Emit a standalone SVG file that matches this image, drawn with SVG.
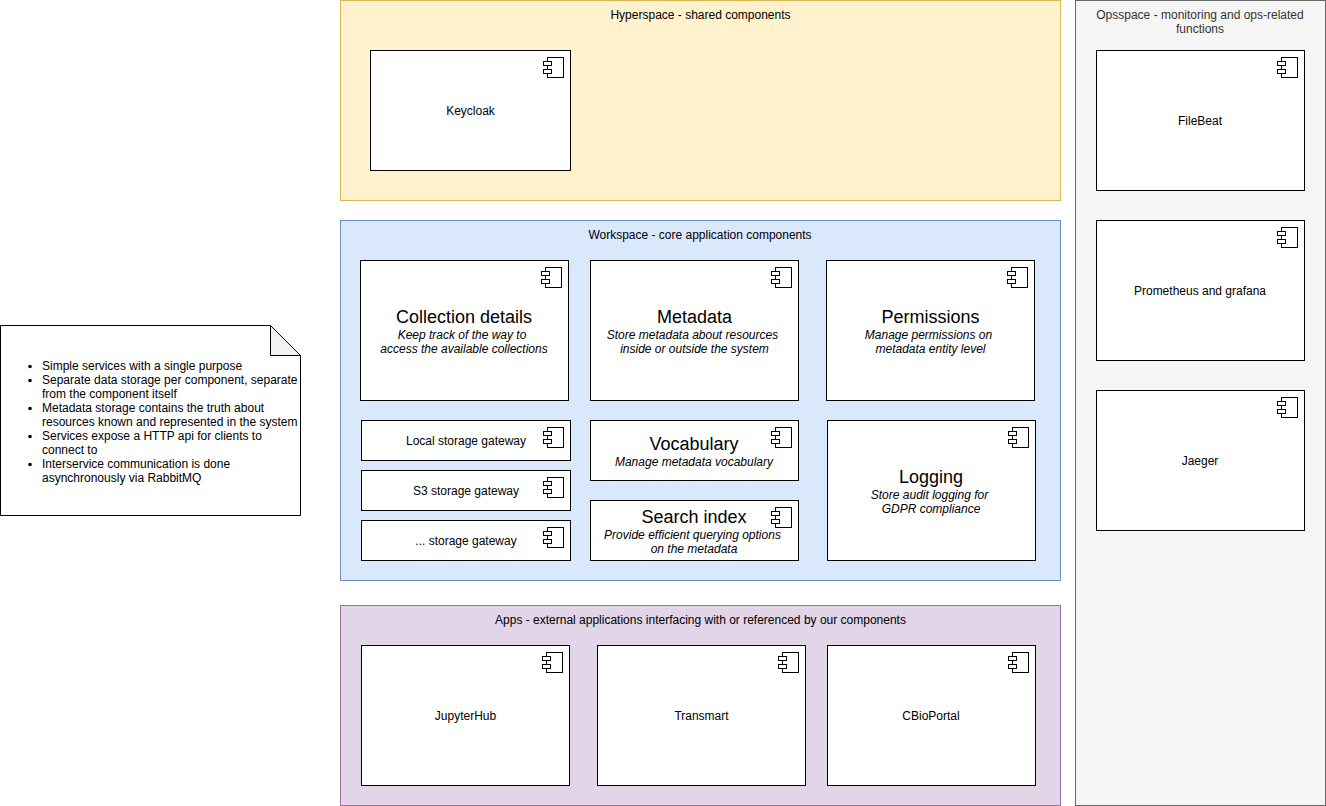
<svg xmlns="http://www.w3.org/2000/svg" width="1326" height="806" viewBox="0 0 1326 806">
<style>
text{font-family:"Liberation Sans",Arial,sans-serif;font-size:12px;fill:#000;text-anchor:middle}
.box{fill:#fff;stroke:#000;stroke-width:1}
.big{font-size:18px}
.sub{font-style:italic}
.note{text-anchor:start}
.ops{fill:#333}
.ic{fill:#fff;stroke:#000;stroke-width:1}
</style>
<defs>
<g id="icon"><rect class="ic" x="4" y="0" width="16" height="20"/><rect class="ic" x="0" y="4" width="8" height="4"/><rect class="ic" x="0" y="12" width="8" height="4"/></g>
</defs>
<g id="connectors"/>
<g id="hyperspace"><rect x="340.5" y="0.5" width="720" height="200" fill="#fff2cc" stroke="#d6b656"/><text x="700.5" y="19">Hyperspace - shared components</text></g>
<g id="workspace"><rect x="340.5" y="220.5" width="720" height="360" fill="#dae8fc" stroke="#6c8ebf"/><text x="700" y="239">Workspace - core application components</text></g>
<g id="apps"><rect x="340.5" y="605.5" width="720" height="200" fill="#e1d5e7" stroke="#9673a6"/><text x="700.5" y="624">Apps - external applications interfacing with or referenced by our components</text></g>
<g id="opsspace"><rect x="1075.5" y="0.5" width="250" height="805" fill="#f5f5f5" stroke="#666"/><text class="ops" x="1200" y="19">Opsspace - monitoring and ops-related</text><text class="ops" x="1200" y="33">functions</text></g>
<g id="note"><path d="M0.5 325.500H270.500L300.500 355.500V515.500H0.500Z" fill="#fff" stroke="#000"/><path d="M270.500 325.500V355.500H300.500Z" fill="#f2f2f2" stroke="#000"/>
<circle cx="30" cy="366.500" r="1.800"/><text class="note" x="42" y="370">Simple services with a single purpose</text>
<circle cx="30" cy="380.500" r="1.800"/><text class="note" x="42" y="384">Separate data storage per component, separate</text><text class="note" x="42" y="398">from the component itself</text>
<circle cx="30" cy="408.500" r="1.800"/><text class="note" x="42" y="412">Metadata storage contains the truth about</text><text class="note" x="42" y="426">resources known and represented in the system</text>
<circle cx="30" cy="436.500" r="1.800"/><text class="note" x="42" y="440">Services expose a HTTP api for clients to</text><text class="note" x="42" y="454">connect to</text>
<circle cx="30" cy="464.500" r="1.800"/><text class="note" x="42" y="468">Interservice communication is done</text><text class="note" x="42" y="482">asynchronously via RabbitMQ</text></g>
<g id="keycloak"><rect class="box" x="370.500" y="50.500" width="200" height="120"/><use href="#icon" x="543.500" y="57.500"/><text x="470.500" y="115">Keycloak</text></g>
<g id="collection-details"><rect class="box" x="360.500" y="260.500" width="208" height="140"/><use href="#icon" x="541.500" y="267.500"/><text class="big" x="464" y="323">Collection details</text><text class="sub" x="462" y="339">Keep track of the way to</text><text class="sub" x="464" y="353">access the available collections</text></g>
<g id="metadata"><rect class="box" x="590.500" y="260.500" width="208" height="140"/><use href="#icon" x="771.500" y="267.500"/><text class="big" x="694.500" y="323">Metadata</text><text class="sub" x="692.500" y="339">Store metadata about resources</text><text class="sub" x="694.500" y="353">inside or outside the system</text></g>
<g id="permissions"><rect class="box" x="826.500" y="260.500" width="208" height="140"/><use href="#icon" x="1007.500" y="267.500"/><text class="big" x="930.500" y="323">Permissions</text><text class="sub" x="928.500" y="339">Manage permissions on</text><text class="sub" x="930.500" y="353">metadata entity level</text></g>
<g id="local-storage"><rect class="box" x="361.500" y="420.500" width="209" height="40"/><use href="#icon" x="543.500" y="427.500"/><text x="466" y="445">Local storage gateway</text></g>
<g id="s3-storage"><rect class="box" x="361.500" y="470.500" width="209" height="40"/><use href="#icon" x="543.500" y="477.500"/><text x="466" y="495">S3 storage gateway</text></g>
<g id="other-storage"><rect class="box" x="361.500" y="520.500" width="209" height="40"/><use href="#icon" x="543.500" y="527.500"/><text x="466" y="545">... storage gateway</text></g>
<g id="vocabulary"><rect class="box" x="590.500" y="420.500" width="208" height="60"/><use href="#icon" x="771.500" y="427.500"/><text class="big" x="694" y="450">Vocabulary</text><text class="sub" x="694" y="466">Manage metadata vocabulary</text></g>
<g id="search-index"><rect class="box" x="590.500" y="500.500" width="208" height="60"/><use href="#icon" x="771.500" y="507.500"/><text class="big" x="694" y="523">Search index</text><text class="sub" x="692.500" y="539">Provide efficient querying options</text><text class="sub" x="694" y="553">on the metadata</text></g>
<g id="logging"><rect class="box" x="827.500" y="420.500" width="208" height="140"/><use href="#icon" x="1008.500" y="427.500"/><text class="big" x="931" y="483">Logging</text><text class="sub" x="929.500" y="499">Store audit logging for</text><text class="sub" x="931" y="513">GDPR compliance</text></g>
<g id="jupyterhub"><rect class="box" x="361.500" y="645.500" width="208" height="140"/><use href="#icon" x="542.500" y="652.500"/><text x="465.500" y="720">JupyterHub</text></g>
<g id="transmart"><rect class="box" x="597.500" y="645.500" width="208" height="140"/><use href="#icon" x="778.500" y="652.500"/><text x="701.500" y="720">Transmart</text></g>
<g id="cbioportal"><rect class="box" x="827.500" y="645.500" width="208" height="140"/><use href="#icon" x="1008.500" y="652.500"/><text x="931" y="720">CBioPortal</text></g>
<g id="filebeat"><rect class="box" x="1096.500" y="50.500" width="208" height="140"/><use href="#icon" x="1277.500" y="57.500"/><text x="1200" y="125">FileBeat</text></g>
<g id="prometheus"><rect class="box" x="1096.500" y="220.500" width="208" height="140"/><use href="#icon" x="1277.500" y="227.500"/><text x="1200" y="295">Prometheus and grafana</text></g>
<g id="jaeger"><rect class="box" x="1096.500" y="390.500" width="208" height="140"/><use href="#icon" x="1277.500" y="397.500"/><text x="1200" y="465">Jaeger</text></g>
</svg>
